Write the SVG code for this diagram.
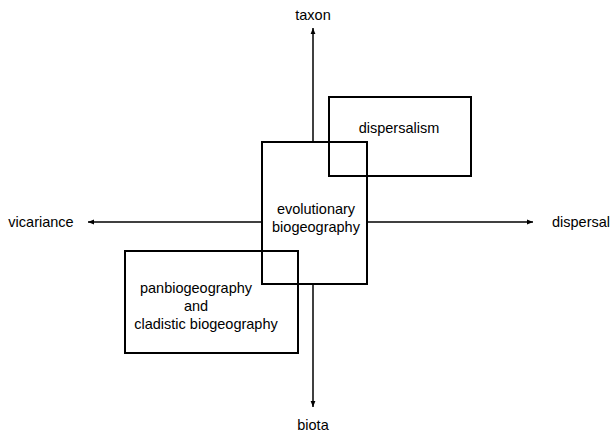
<svg xmlns="http://www.w3.org/2000/svg" width="611" height="435" viewBox="0 0 611 435">
<style>
text{font-family:"Liberation Sans",Arial,sans-serif;font-size:14.5px;fill:#000;text-anchor:middle}
.box{fill:none;stroke:#000;stroke-width:2}
.ax{fill:none;stroke:#000;stroke-width:1.5}
</style>
<defs>
<marker id="ah" viewBox="0 0 10 10" refX="10" refY="5" markerWidth="6" markerHeight="6" markerUnits="userSpaceOnUse" orient="auto">
<path d="M0,1 L10,5 L0,9 z" fill="#000"/>
</marker>
</defs>
<rect width="611" height="435" fill="#fff"/>
<g id="connectors">
<line class="ax" x1="313" y1="142" x2="313" y2="28" marker-end="url(#ah)"/>
<line class="ax" x1="313" y1="284" x2="313" y2="407" marker-end="url(#ah)"/>
<line class="ax" x1="262" y1="222" x2="88" y2="222" marker-end="url(#ah)"/>
<line class="ax" x1="367" y1="222" x2="533" y2="222" marker-end="url(#ah)"/>
</g>
<g id="taxon"><text x="313" y="20">taxon</text></g>
<g id="biota"><text x="313" y="430">biota</text></g>
<g id="vicariance"><text x="41" y="227">vicariance</text></g>
<g id="dispersal"><text x="581" y="227">dispersal</text></g>
<g id="dispersalism">
<rect class="box" x="329" y="97" width="142" height="79"/>
<text x="399" y="133">dispersalism</text>
</g>
<g id="evolutionary">
<rect class="box" x="262" y="142" width="105" height="142"/>
<text x="316" y="214">evolutionary</text>
<text x="316" y="232">biogeography</text>
</g>
<g id="panbiogeography">
<rect class="box" x="125" y="251" width="173" height="102"/>
<text x="196" y="293">panbiogeography</text>
<text x="196" y="311">and</text>
<text x="206" y="329">cladistic biogeography</text>
</g>
</svg>
